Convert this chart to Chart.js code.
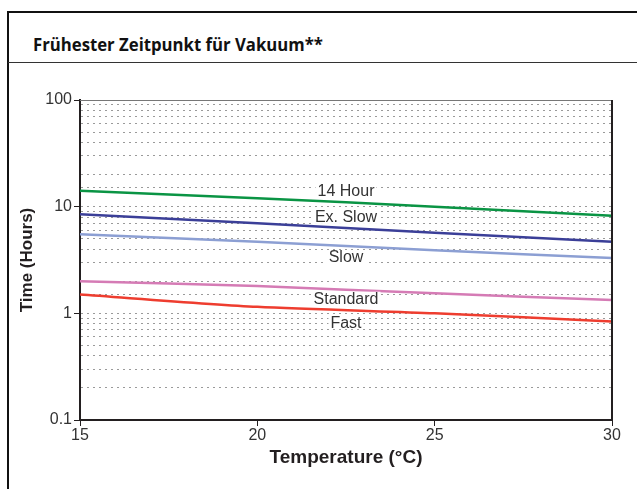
<!DOCTYPE html>
<html>
<head>
<meta charset="utf-8">
<script src="https://cdn.jsdelivr.net/npm/chart.js@4/dist/chart.umd.min.js"></script>
<style>
  html, body { margin: 0; padding: 0; background: #fff; }
  body { width: 637px; height: 489px; position: relative; overflow: hidden; }
  #frame { position: absolute; left: 7px; top: 11px; width: 640px; height: 490px;
           border-top: 2px solid #111; border-left: 2px solid #111; }
  #title { position: absolute; left: 33px; top: 36px; font-family: "Open Sans", sans-serif;
           font-weight: 700; font-size: 17px; line-height: 1; color: #111; white-space: nowrap;
           transform-origin: left center; }
  #sep { position: absolute; left: 8px; right: 0; top: 62px; height: 1px; background: #333; }
  #box { position: absolute; left: 0; top: 0; width: 637px; height: 489px; }
</style>
</head>
<body>
<div id="frame"></div>
<div id="title">Frühester Zeitpunkt für Vakuum**</div>
<div id="sep"></div>
<div id="box"><canvas id="chart"></canvas></div>
<script>
// --- DATOS ---
const temps = [15, 20, 25, 30];
const hour14 = [14.1, 12.0, 10.0, 8.2];
const exSlow = [8.5, 7.0, 5.7, 4.7];
const slow = [5.5, 4.7, 3.9, 3.3];
const standard = [2.0, 1.8, 1.54, 1.33];
const fast = [1.5, 1.15, 1.0, 0.84];
const seriesNames = ['14 Hour', 'Ex. Slow', 'Slow', 'Standard', 'Fast'];
const seriesColors = ['#0a9444', '#3b3f98', '#8c9fd3', '#d57bb5', '#ee3d2f'];
const yTickLabels = [0.1, 1, 10, 100];
const xTickLabels = [15, 20, 25, 30];

const allSeries = [hour14, exSlow, slow, standard, fast];

// ajustar el ancho del título al original
function fitTitle() {
    const t = document.getElementById('title');
    t.style.transform = 'none';
    const w = t.getBoundingClientRect().width;
    if (w > 0) t.style.transform = `scaleX(${290 / w})`;
}
fitTitle();
if (document.fonts) document.fonts.ready.then(fitTitle);

// etiquetas sobre las curvas (desplazamiento en px respecto a la curva)
const labelAt = 22.5;
const labelOffsets = [-12, -11, 11, 9, 12];

function interpLog(xs, ys, x) {
    for (let i = 0; i < xs.length - 1; i++) {
        if (x >= xs[i] && x <= xs[i + 1]) {
            const t = (x - xs[i]) / (xs[i + 1] - xs[i]);
            return Math.pow(10, Math.log10(ys[i]) * (1 - t) + Math.log10(ys[i + 1]) * t);
        }
    }
    return ys[ys.length - 1];
}

const lineLabels = {
    id: 'lineLabels',
    afterDatasetsDraw(chart) {
        const { ctx, scales: { x, y } } = chart;
        ctx.save();
        ctx.font = '16px "Liberation Sans", Arial, sans-serif';
        ctx.textAlign = 'center';
        ctx.textBaseline = 'middle';
        seriesNames.forEach((name, i) => {
            const px = x.getPixelForValue(labelAt);
            const py = y.getPixelForValue(interpLog(temps, allSeries[i], labelAt)) + labelOffsets[i];
            const w = ctx.measureText(name).width;
            ctx.fillStyle = '#fff';
            ctx.fillRect(px - w / 2 - 2, py - 7, w + 4, 14);
            ctx.fillStyle = '#333';
            ctx.fillText(name, px, py + 1);
        });
        ctx.restore();
    }
};

const plotFrame = {
    id: 'plotFrame',
    afterDraw(chart) {
        const { ctx, chartArea: a } = chart;
        ctx.save();
        ctx.strokeStyle = '#777';
        ctx.lineWidth = 1;
        ctx.beginPath();
        ctx.moveTo(a.left, a.top + 0.5);
        ctx.lineTo(a.right, a.top + 0.5);
        ctx.stroke();
        ctx.strokeStyle = '#231f20';
        ctx.lineWidth = 2;
        ctx.beginPath();
        ctx.moveTo(a.right, a.top);
        ctx.lineTo(a.right, a.bottom);
        ctx.stroke();
        ctx.restore();
    }
};

new Chart(document.getElementById('chart'), {
    type: 'line',
    data: {
        datasets: seriesNames.map((name, i) => ({
            label: name,
            data: temps.map((t, j) => ({ x: t, y: allSeries[i][j] })),
            borderColor: seriesColors[i],
            borderWidth: 2.5,
            pointRadius: 0,
            tension: 0.25,
            fill: false
        }))
    },
    options: {
        responsive: true,
        maintainAspectRatio: false,
        animation: false,
        layout: { padding: { left: 0, top: 100, right: 25, bottom: 0 } },
        plugins: { legend: { display: false }, tooltip: { enabled: false } },
        scales: {
            x: {
                type: 'linear',
                min: 15, max: 30,
                afterFit: s => { s.height = 69; },
                afterBuildTicks: s => { s.ticks = xTickLabels.map(v => ({ value: v })); },
                ticks: { font: { family: '"Liberation Sans", Arial, sans-serif', size: 16 }, color: '#333', padding: 0 },
                grid: { drawOnChartArea: false, tickLength: 6, tickColor: '#231f20', tickWidth: 1 },
                border: { color: '#231f20', width: 2 },
                title: { display: true, text: 'Temperature (°C)', color: '#231f20',
                         font: { family: '"Liberation Sans", Arial, sans-serif', size: 19, weight: 'bold' },
                         padding: { top: 0, bottom: 20 } }
            },
            y: {
                type: 'logarithmic',
                min: 0.1, max: 100,
                afterFit: s => { s.width = 80; },
                ticks: {
                    autoSkip: false,
                    font: { family: '"Liberation Sans", Arial, sans-serif', size: 16 }, color: '#333', padding: 2,
                    callback: v => yTickLabels.includes(v) ? String(v) : ''
                },
                grid: {
                    color: c => (c.tick && (c.tick.value === 100 || c.tick.value === 0.1)) ? 'rgba(0,0,0,0)' : '#9a9a9a',
                    lineWidth: 1,
                    tickLength: 6,
                    tickBorderDash: [],
                    tickColor: c => (c.tick && yTickLabels.includes(c.tick.value)) ? '#231f20' : 'rgba(0,0,0,0)'
                },
                border: { color: '#231f20', width: 2, dash: [2, 4] },
                title: { display: true, text: 'Time (Hours)', color: '#231f20',
                         font: { family: '"Liberation Sans", Arial, sans-serif', size: 17, weight: 'bold' },
                         padding: { top: 17, bottom: 0 } }
            }
        }
    },
    plugins: [lineLabels, plotFrame]
});
</script>
</body>
</html>
